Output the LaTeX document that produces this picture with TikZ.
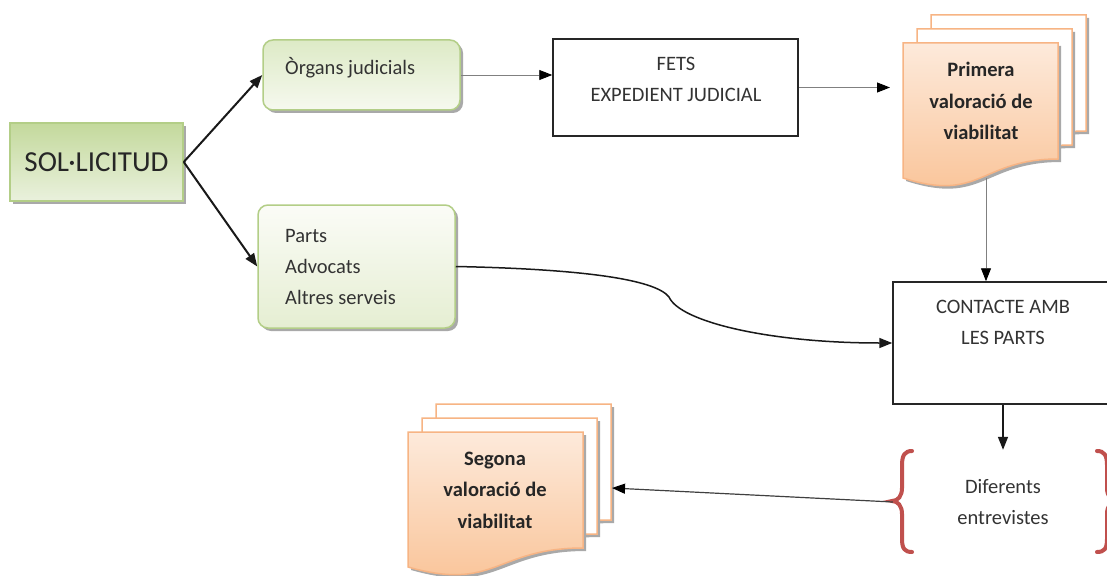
\documentclass[tikz,border=0pt]{standalone}
\usepackage{fontspec}
\setmainfont{Carlito}
\usetikzlibrary{arrows.meta}

\definecolor{grnline}{HTML}{B3CE87}
\definecolor{soltop}{HTML}{C3D99C}
\definecolor{solbot}{HTML}{EAF1DD}
\definecolor{orgtop}{HTML}{DDEAC6}
\definecolor{orgbot}{HTML}{F6F9EF}
\definecolor{prttop}{HTML}{FBFCF7}
\definecolor{prtbot}{HTML}{E5EED2}
\definecolor{docline}{HTML}{F7B484}
\definecolor{doctop}{HTML}{FDEADB}
\definecolor{docbot}{HTML}{F9C295}
\definecolor{bracered}{HTML}{C0504D}
\definecolor{txtgray}{HTML}{333333}
\definecolor{shdw}{HTML}{A9A9A9}

% document shape: x, y, width (height fixed)
\newcommand{\docshape}[4]{%
  \pgfmathsetmacro\docR{#2+#4}\pgfmathsetmacro\docM{#2+0.5*#4}%
  \draw[#1] (#2,#3) -- (\docR,#3) -- (\docR,#3+116) .. controls (\docM,#3+116) and (\docM,#3+160) .. (#2,#3+135) -- cycle;}

\begin{document}
\begin{tikzpicture}[x=1pt,y=1pt,yscale=-1,
  every node/.style={font=\fontsize{20.5}{31}\selectfont, text=txtgray},
  shadowed/.style={preaction={fill=shdw, transform canvas={shift={(3pt,-3pt)}}}},
  grnbox/.style={draw=grnline, line width=1.5pt, rounded corners=10pt, shadowed, inner sep=0pt},
  plainbox/.style={draw=black!85, line width=1.5pt, inner sep=0pt},
  docback/.style={draw=docline, line width=1.5pt, fill=white, shadowed},
  docfront/.style={draw=docline, line width=1.5pt, top color=doctop, bottom color=docbot, shadowed},
  doctxt/.style={font=\fontsize{20.5}{31.5}\selectfont\bfseries, text=black!85, align=center},
  thickarrow/.style={line width=2pt, black!90, -{Triangle[length=13pt,width=10pt]}},
  midarrow/.style={line width=1.5pt, black!90, -{Triangle[length=13pt,width=10pt]}},
  thinarrow/.style={line width=0.9pt, black!50, -{Triangle[length=13pt,width=10pt,fill=black,color=black]}},
  brace/.style={line width=4pt, bracered, line cap=round}
  ]
  \path[use as bounding box, fill=white] (0,0) rectangle (1107,575);

  %Shape: Rectangle
  \node[draw=grnline, line width=1.5pt, top color=soltop, bottom color=solbot, shadowed, inner sep=0pt,
        minimum width=173, minimum height=78, font=\fontsize{29}{34}\selectfont, text=black!85] (sol) at (96.5,162) {SOL·LICITUD};

  %Shape: Rounded Rect
  \node[grnbox, top color=orgtop, bottom color=orgbot, minimum width=197, minimum height=70] (organs) at (361.5,75) {};
  % Text Node
  \node[anchor=west, inner sep=0pt] (organs-txt) at (285,68) {Òrgans judicials};

  %Shape: Rounded Rect
  \node[grnbox, top color=prttop, bottom color=prtbot, minimum width=197, minimum height=123] (parts) at (356.5,266.5) {};
  % Text Node
  \node[anchor=west, align=left, inner sep=0pt] (parts-txt) at (285,267) {Parts\\Advocats\\Altres serveis};

  %Shape: Rectangle
  \node[plainbox, minimum width=245, minimum height=97] (fets) at (675.5,87.5) {};
  % Text Node
  \node[align=center, inner sep=0pt] (fets-txt) at (676,79) {FETS\\EXPEDIENT JUDICIAL};

  %Shape: Document (first)
  \docshape{docback}{931}{15}{155}
  \docshape{docback}{917}{29}{155}
  \docshape{docfront}{903}{43}{155}
  % Text Node
  \node[doctxt] (prim) at (981,101) {Primera\\valoració de\\viabilitat};
  \coordinate (prim-in) at (890,87.5);
  \coordinate (prim-out) at (986,178);

  %Shape: Rectangle
  \node[plainbox, minimum width=220, minimum height=122] (contacte) at (1003,343) {};
  % Text Node
  \node[align=center, inner sep=0pt] (contacte-txt) at (1003,322) {CONTACTE AMB\\LES PARTS};

  % Text Node
  \node[align=center, minimum width=220, minimum height=104] (entrev) at (1003,502) {Diferents\\entrevistes};
  %Shape: Braces
  \draw[brace] (912,451) .. controls (905,451) and (902,455) .. (902,465) -- (902,488) .. controls (902,496) and (898,501) .. (892,501)
     .. controls (898,501) and (902,506) .. (902,514) -- (902,539) .. controls (902,549) and (905,552) .. (912,552);
  \draw[brace] (1097,451) .. controls (1104,451) and (1107,455) .. (1107,465) -- (1107,488) .. controls (1107,496) and (1111,501) .. (1117,501)
     .. controls (1111,501) and (1107,506) .. (1107,514) -- (1107,539) .. controls (1107,549) and (1104,552) .. (1097,552);

  %Shape: Document (second)
  \docshape{docback}{436}{404}{175}
  \docshape{docback}{422}{418}{175}
  \docshape{docfront}{408}{432}{175}
  % Text Node
  \node[doctxt] (seg) at (495,490) {Segona\\valoració de\\viabilitat};
  \coordinate (seg-in) at (612,488);

  %Straight Lines
  \draw[thickarrow] (sol.east) -- (organs.west);
  \draw[thickarrow] (sol.east) -- (parts.west);
  \draw[thinarrow] (organs.east) -- (organs.east -| fets.west);
  \draw[thinarrow] (fets.east) -- (prim-in);
  \draw[thinarrow] (prim-out) -- (prim-out |- contacte.north);
  %Curve Lines
  \draw[midarrow] (parts.east) .. controls (580,269) and (655,279) .. (669,297) .. controls (680,322) and (770,343) .. (contacte.west);
  \draw[midarrow] (contacte.south) -- (entrev.north);
  \draw[line width=1.2pt, black!75, -{Triangle[length=13pt,width=10pt,color=black]}] (entrev.west) -- (seg-in);

\end{tikzpicture}
\end{document}
